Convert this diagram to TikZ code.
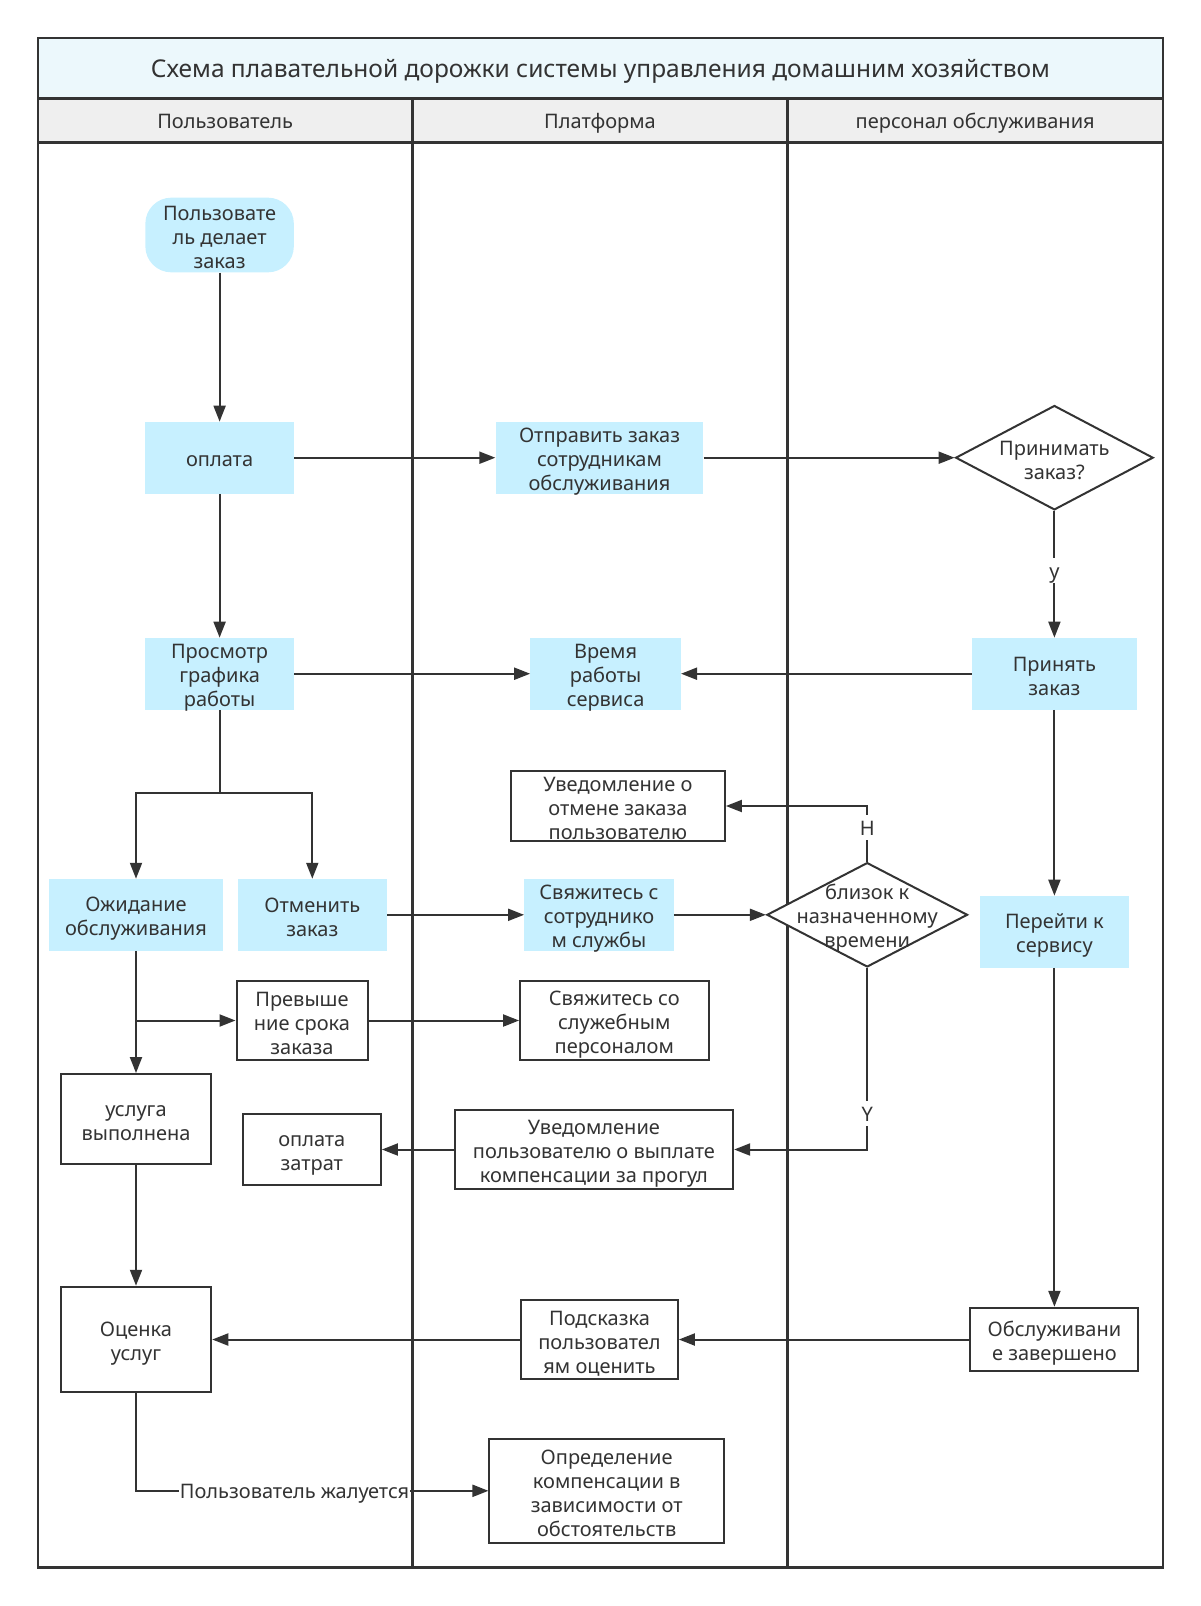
\documentclass[tikz,border=0pt]{standalone}
\usepackage{fontspec}
\setmainfont{Noto Sans}
\usetikzlibrary{arrows.meta,shapes.geometric}
\definecolor{cyanfill}{RGB}{199,240,255}
\definecolor{titlebg}{RGB}{236,248,252}
\definecolor{headbg}{RGB}{239,239,239}
\definecolor{ln}{RGB}{51,51,51}
\newcommand{\tsm}{\rule{0pt}{1.15em}}
\begin{document}
\begin{tikzpicture}[x=1pt,y=-1pt,
  every node/.style={font=\fontsize{20}{24}\selectfont, text=ln, align=center, inner xsep=0pt, inner ysep=-6pt,
    execute at begin node={\rule{0pt}{1.05em}},
    execute at end node={\rule[-0.2em]{0pt}{0.2em}}},
  cbox/.style={rectangle, fill=cyanfill},
  wbox/.style={rectangle, draw=ln, line width=2pt, fill=white},
  dia/.style={diamond, draw=ln, line width=2pt, fill=white},
  conn/.style={draw=ln, line width=2pt},
  arr/.style={conn, -{Triangle[length=16pt,width=12pt]}},
  lbl/.style={fill=white, inner xsep=1pt, inner ysep=0pt},
  frame/.style={draw=ln, line width=2.5pt}
]
\useasboundingbox (0,0) rectangle (1200,1606);
% frame
\fill[titlebg] (37.9,37.9) rectangle (1163,98.3);
\fill[headbg] (37.9,98.3) rectangle (1163,142.3);
\draw[frame] (37.9,37.9) rectangle (1163,1567.6);
\draw[frame] (37.9,98.3) -- (1163,98.3);
\draw[frame] (37.9,142.3) -- (1163,142.3);
\draw[frame] (412.6,98.3) -- (412.6,1567.6);
\draw[frame] (787.4,98.3) -- (787.4,1567.6);
\node[font=\fontsize{24.5}{29}\selectfont] (title) at (600.5,68) {Схема плавательной дорожки системы управления домашним хозяйством};
\node (h1) at (225.2,120.3) {Пользователь};
\node (h2) at (600,120.3) {Платформа};
\node (h3) at (975.2,120.3) {персонал обслуживания};
% nodes
\node[cbox, rounded corners=26pt, minimum width=148.5pt, minimum height=74.7pt] (start) at (219.6,235) {\tsm Пользовате\\ль делает\\заказ};
\node[cbox, minimum width=148.5pt, minimum height=71.7pt] (opl) at (219.6,457.7) {оплата};
\node[cbox, minimum width=207.9pt, minimum height=71.7pt] (otp) at (599.5,457.7) {\tsm Отправить заказ\\сотрудникам\\обслуживания};
\node[dia, minimum width=197.6pt, minimum height=104.4pt] (d1) at (1054.4,457.7) {};
\node (d1t) at (1054.4,457.7) {\tsm Принимать\\заказ?};
\node[cbox, minimum width=164.8pt, minimum height=71.7pt] (prn) at (1054.4,673.7) {\tsm Принять\\заказ};
\node[cbox, minimum width=148.5pt, minimum height=71.7pt] (prosm) at (219.6,673.7) {\tsm Просмотр\\графика\\работы};
\node[cbox, minimum width=150.5pt, minimum height=71.7pt] (vrem) at (605.6,673.7) {\tsm Время\\работы\\сервиса};
\node[wbox, minimum width=214pt, minimum height=70.6pt] (uvotm) at (617.9,806) {\tsm Уведомление о\\отмене заказа\\пользователю};
\node[dia, minimum width=200.7pt, minimum height=104.4pt] (d2) at (867.2,914.8) {};
\node (d2t) at (867.2,914.8) {\tsm близок к\\назначенному\\времени};
\node[cbox, minimum width=174pt, minimum height=71.7pt] (ozh) at (136,914.8) {\tsm Ожидание\\обслуживания};
\node[cbox, minimum width=149.5pt, minimum height=71.7pt] (otm) at (312.3,914.8) {\tsm Отменить\\заказ};
\node[cbox, minimum width=149.5pt, minimum height=71.7pt] (svs) at (599,914.8) {\tsm Свяжитесь с\\сотруднико\\м службы};
\node[cbox, minimum width=149.5pt, minimum height=71.7pt] (per) at (1054.4,931.7) {\tsm Перейти к\\сервису};
\node[wbox, minimum width=131pt, minimum height=79.9pt] (prev) at (302,1020.5) {\tsm Превыше\\ние срока\\заказа};
\node[wbox, minimum width=188.4pt, minimum height=79.9pt] (svso) at (614.3,1020.5) {\tsm Свяжитесь со\\служебным\\персоналом};
\node[wbox, minimum width=150.5pt, minimum height=90.1pt] (usl) at (136,1119.1) {\tsm услуга\\выполнена};
\node[wbox, minimum width=138.2pt, minimum height=70.6pt] (oplz) at (311.8,1149.5) {\tsm оплата\\затрат};
\node[wbox, minimum width=278.5pt, minimum height=79.9pt] (uvpol) at (593.9,1149.5) {\tsm Уведомление\\пользователю о выплате\\компенсации за прогул};
\node[wbox, minimum width=150.5pt, minimum height=105.5pt] (ocen) at (136,1339.5) {\tsm Оценка\\услуг};
\node[wbox, minimum width=156.7pt, minimum height=79.9pt] (podsk) at (599.5,1339.5) {\tsm Подсказка\\пользовател\\ям оценить};
\node[wbox, minimum width=168pt, minimum height=63.5pt] (obsl) at (1054.4,1339.5) {\tsm Обслуживани\\е завершено};
\node[wbox, minimum width=234.5pt, minimum height=104.4pt] (opred) at (606.7,1490.8) {\tsm Определение\\компенсации в\\зависимости от\\обстоятельств};
% connectors
\coordinate (br1) at (219.6,792.5);
\coordinate (br2) at (136,1020.5);
\draw[arr] (start) -- (opl);
\draw[arr] (opl) -- (otp);
\draw[arr] (otp) -- (d1.west);
\draw[arr] (d1.south) -- node[lbl, pos=0.47] (ly) {у} (prn.north);
\draw[arr] (opl) -- (prosm);
\draw[arr] (prosm) -- (vrem);
\draw[arr] (prn) -- (vrem);
\draw[conn] (prosm.south) -- (br1);
\draw[arr] (br1) -| (ozh.north);
\draw[arr] (br1) -| (otm.north);
\draw[arr] (otm) -- (svs);
\draw[arr] (svs) -- (d2.west);
\draw[arr] (d2.north) |- node[lbl, pos=0.31] (lh) {Н} (uvotm.east);
\draw[arr] (d2.south) |- node[lbl, pos=0.4] (lyy) {Y} (uvpol.east);
\draw[arr] (prn) -- (per);
\draw[arr] (per) -- (obsl);
\draw[arr] (ozh) -- (usl);
\draw[arr] (br2) -- (prev.west);
\draw[arr] (prev) -- (svso);
\draw[arr] (uvpol) -- (oplz);
\draw[arr] (usl) -- (ocen);
\draw[arr] (obsl) -- (podsk);
\draw[arr] (podsk) -- (ocen);
\draw[arr] (ocen.south) |- node[lbl, pos=0.725] (lc) {Пользователь жалуется} (opred.west);
\end{tikzpicture}
\end{document}
